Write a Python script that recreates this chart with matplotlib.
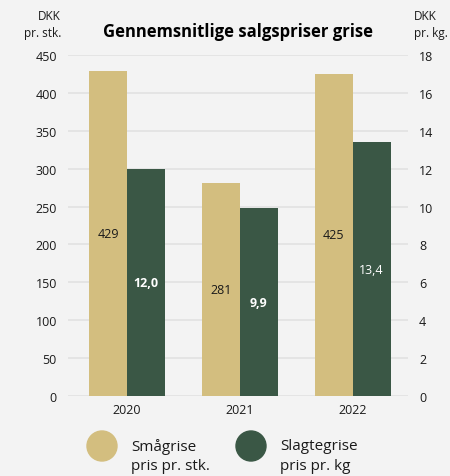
import matplotlib
matplotlib.use("Agg")
import matplotlib.pyplot as plt
import numpy as np
from matplotlib.patches import Ellipse

plt.rcParams['font.family'] = ['Open Sans', 'DejaVu Sans']

years = ["2020", "2021", "2022"]
smaagrise = [429, 281, 425]
slagtegrise = [12.0, 9.9, 13.4]
smaa_labels = ["429", "281", "425"]
slagte_labels = ["12,0", "9,9", "13,4"]
slagte_bold = [True, True, False]
left_ticks = [0, 50, 100, 150, 200, 250, 300, 350, 400, 450]
right_ticks = [0, 2, 4, 6, 8, 10, 12, 14, 16, 18]
legend_labels = [("Smågrise", "pris pr. stk."), ("Slagtegrise", "pris pr. kg")]

BG = "#f3f3f3"
GOLD = "#d3be7f"
GREEN = "#3a5745"
TXT = "#1a1a1a"

fig = plt.figure(figsize=(4.5, 4.77), dpi=100, facecolor=BG)
ax = fig.add_axes([68/450, 1-397/477, 340/450, 341/477])
ax.set_facecolor(BG)
ax2 = ax.twinx()

x = np.arange(len(years))
w = 0.336
ax.bar(x - w/2, smaagrise, width=w, color=GOLD, zorder=3)
ax2.bar(x + w/2, slagtegrise, width=w, color=GREEN, zorder=3)

ax.set_ylim(0, 450)
ax2.set_ylim(0, 18)
ax.set_xlim(-0.522, 2.49)
ax.set_yticks(left_ticks)
ax2.set_yticks(right_ticks)
ax.set_xticks(x)
ax.set_xticklabels(years)
ax.grid(axis='y', color="#e2e2e2", linewidth=1.2, zorder=0)
ax.set_axisbelow(True)

for a in (ax, ax2):
    for s in a.spines.values():
        s.set_visible(False)
    a.tick_params(length=0, labelsize=9, colors=TXT)
ax.tick_params(axis='y', pad=8)
ax2.tick_params(axis='y', pad=8)
ax.tick_params(axis='x', pad=5)

for i in range(len(years)):
    ax.text(x[i] - w/2, smaagrise[i]/2, smaa_labels[i], ha='center', va='center',
            fontsize=9, color=TXT, zorder=4)
    ax2.text(x[i] + w/2, slagtegrise[i]/2, slagte_labels[i], ha='center', va='center',
             fontsize=9, color='white', fontweight='bold' if slagte_bold[i] else 'normal',
             zorder=4)

fig.text(238/450, 1-32/477, "Gennemsnitlige salgspriser grise", ha='center', va='center',
         fontsize=12, fontweight='bold', color='black')
fig.text(61/450, 1-16/477, "DKK", ha='right', va='center', fontsize=8.5, color=TXT)
fig.text(61/450, 1-33/477, "pr. stk.", ha='right', va='center', fontsize=8.5, color=TXT)
fig.text(414/450, 1-16/477, "DKK", ha='left', va='center', fontsize=8.5, color=TXT)
fig.text(414/450, 1-33/477, "pr. kg.", ha='left', va='center', fontsize=8.5, color=TXT)

# legend
for cx, col, (l1, l2) in [(102, GOLD, legend_labels[0]), (251, GREEN, legend_labels[1])]:
    e = Ellipse((cx/450, 1-447/477), 30/450, 30/477, transform=fig.transFigure,
                color=col)
    fig.patches.append(e)
    fig.text((cx+29)/450, 1-447/477, l1, ha='left', va='center', fontsize=11, color=TXT)
    fig.text((cx+29)/450, 1-467/477, l2, ha='left', va='center', fontsize=11, color=TXT)

fig.savefig("out.png", dpi=100, facecolor=BG)
